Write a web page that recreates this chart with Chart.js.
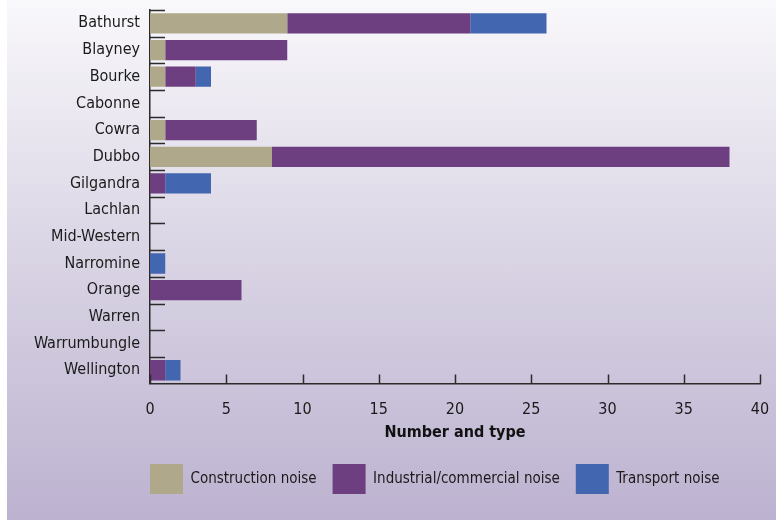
<!DOCTYPE html>
<html>
<head>
<meta charset="utf-8">
<script src="https://cdn.jsdelivr.net/npm/chart.js@4"></script>
<style>
  html, body { margin: 0; padding: 0; background: #ffffff; }
  #panel {
    position: absolute; left: 7px; top: 0; width: 769px; height: 520px;
    background: linear-gradient(to bottom, #f9f8fb 0%, #dcd7e6 45%, #bcb2d0 100%);
  }
  #wrap { position: absolute; left: 0; top: 0; width: 776px; height: 520px; }
</style>
</head>
<body>
<div id="panel"></div>
<div id="wrap"><canvas id="grafica"></canvas></div>
<script>
const councils = ['Bathurst', 'Blayney', 'Bourke', 'Cabonne', 'Cowra', 'Dubbo', 'Gilgandra',
                  'Lachlan', 'Mid-Western', 'Narromine', 'Orange', 'Warren', 'Warrumbungle', 'Wellington'];
const construction = [9, 1, 1, 0, 1, 8, 0, 0, 0, 0, 0, 0, 0, 0];
const industrial   = [12, 8, 2, 0, 6, 30, 1, 0, 0, 0, 6, 0, 0, 1];
const transport    = [5, 0, 1, 0, 0, 0, 3, 0, 0, 1, 0, 0, 0, 1];
const xTicks = [0, 5, 10, 15, 20, 25, 30, 35, 40];

const fuente = "'Liberation Sans Narrow', 'DejaVu Sans Condensed', 'Open Sans', sans-serif";
Chart.defaults.font.family = fuente;
Chart.defaults.color = '#1a1a1a';

// short ticks drawn inside the plot, as in the original
const ticksDentro = {
  id: 'ticksDentro',
  afterDatasetsDraw(chart) {
    const c = chart.ctx;
    const a = chart.chartArea;
    const y = chart.scales.y;
    const x = chart.scales.x;
    c.save();
    c.strokeStyle = '#2b2b2b';
    c.lineWidth = 1.5;
    c.beginPath();
    const n = councils.length;
    const paso = (y.bottom - y.top) / n;
    for (let i = 0; i < n; i++) {
      const py = Math.round(y.top + i * paso) + 0.5;
      c.moveTo(a.left, py);
      c.lineTo(a.left + 15, py);
    }
    xTicks.forEach(v => {
      const px = Math.round(x.getPixelForValue(v)) + 0.5;
      c.moveTo(px, a.bottom);
      c.lineTo(px, a.bottom - 9);
    });
    c.stroke();
    c.restore();
  },
  afterLayout(chart) {
    // legend starts under the y axis, not at the canvas edge
    const lg = chart.legend;
    const dx = chart.chartArea.left - 16 - lg.left;
    lg.left += dx;
    lg.right += dx;
  }
};

const ctx = document.getElementById('grafica').getContext('2d');
new Chart(ctx, {
  type: 'bar',
  data: {
    labels: councils,
    datasets: [
      { label: 'Construction noise', data: construction, backgroundColor: '#b0a88a' },
      { label: 'Industrial/commercial noise', data: industrial, backgroundColor: '#6d3f80' },
      { label: 'Transport noise', data: transport, backgroundColor: '#4267b0' }
    ]
  },
  options: {
    indexAxis: 'y',
    responsive: true,
    maintainAspectRatio: false,
    animation: false,
    layout: { padding: { left: 7, right: 9, top: 10, bottom: 16 } },
    datasets: { bar: { categoryPercentage: 0.76, barPercentage: 1.0 } },
    plugins: {
      tooltip: { enabled: false },
      legend: {
        position: 'bottom',
        align: 'start',
        labels: {
          boxWidth: 33,
          boxHeight: 30,
          padding: 16,
          font: { size: 15 },
          color: '#1a1a1a'
        }
      }
    },
    scales: {
      x: {
        stacked: true,
        min: 0,
        max: 40,
        afterBuildTicks: s => { s.ticks = xTicks.map(v => ({ value: v })); },
        afterFit: s => { s.paddingRight = 16; s.paddingLeft = 0; },
        grid: { display: false, drawTicks: false },
        border: { display: true, color: '#2b2b2b', width: 1.5 },
        ticks: { padding: 17, font: { size: 16 }, color: '#1a1a1a', maxRotation: 0 },
        title: {
          display: true,
          text: 'Number and type',
          font: { size: 16, weight: 'bold' },
          color: '#111111',
          padding: { top: -14, bottom: 6 }
        }
      },
      y: {
        stacked: true,
        afterFit: s => { s.width = 143; s.paddingTop = 0; s.paddingBottom = 0; },
        grid: { display: false, drawTicks: false },
        border: { display: true, color: '#2b2b2b', width: 1.5 },
        ticks: { padding: 10, font: { size: 16 }, color: '#1a1a1a', autoSkip: false }
      }
    }
  },
  plugins: [ticksDentro]
});
</script>
</body>
</html>
